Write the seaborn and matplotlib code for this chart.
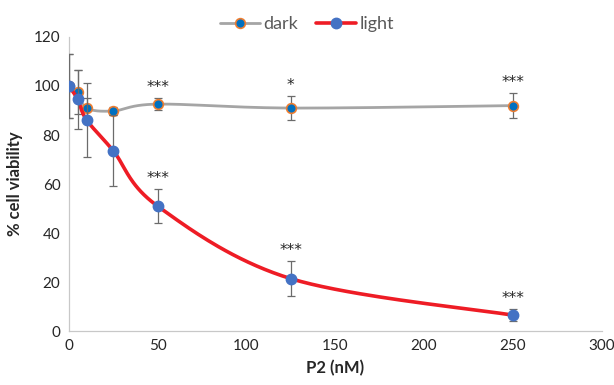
import matplotlib
matplotlib.use("Agg")
import matplotlib.pyplot as plt
import numpy as np
import pandas as pd
import seaborn as sns

# ── data ──────────────────────────────────────────────────────────────────
conc = [0, 5, 10, 25, 50, 125, 250]
dark = [100, 97.5, 91, 89.8, 92.6, 91, 92]
dark_err = [13, 9, 4, 1.5, 2.4, 5, 5]
light = [100, 94.6, 86.2, 73.6, 51, 21.4, 6.5]
light_err = [13, 12, 15, 14.5, 7, 7.2, 2.5]
dark_stars = ["", "", "", "", "***", "*", "***"]
light_stars = ["", "", "", "", "***", "***", "***"]

df = pd.DataFrame({"conc": conc, "dark": dark, "dark_err": dark_err,
                   "light": light, "light_err": light_err})


def smooth(x, y, n=40):
    # Excel-style smoothed line (Catmull-Rom through the points)
    x = np.asarray(x, float)
    y = np.asarray(y, float)
    px = np.r_[x[0], x, x[-1]]
    py = np.r_[y[0], y, y[-1]]
    xs, ys = [], []
    t = np.linspace(0, 1, n)
    for i in range(1, len(px) - 2):
        p0, p1, p2, p3 = [np.array([px[j], py[j]]) for j in range(i - 1, i + 3)]
        c1 = p1 + (p2 - p0) / 6
        c2 = p2 - (p3 - p1) / 6
        b = ((1 - t) ** 3)[:, None] * p1 + (3 * (1 - t) ** 2 * t)[:, None] * c1 \
            + (3 * (1 - t) * t ** 2)[:, None] * c2 + (t ** 3)[:, None] * p2
        xs.append(b[:, 0])
        ys.append(b[:, 1])
    return np.concatenate(xs), np.concatenate(ys)


sns.set_style("white")
plt.rcParams["font.family"] = ["Lato", "DejaVu Sans"]

fig = plt.figure(figsize=(6.14, 3.85), dpi=100)
ax = fig.add_axes([0.112, 0.140, 0.868, 0.764])

ERR = "#6b6b6b"
GRAY = "#a5a5a5"
RED = "#ee1c25"

# dark series
sx, sy = smooth(df["conc"], df["dark"])
sns.lineplot(x=sx, y=sy, ax=ax, color=GRAY, lw=2.0, sort=False, zorder=2)
ax.errorbar(df["conc"], df["dark"], yerr=df["dark_err"], fmt="none",
            ecolor=ERR, elinewidth=0.9, capsize=3, capthick=0.9, zorder=3)
ax.plot(df["conc"], df["dark"], "o", ms=7, mfc="#0070c0", mec="#ed7d31",
        mew=1.2, zorder=4)

# light series
sx, sy = smooth(df["conc"], df["light"])
sns.lineplot(x=sx, y=sy, ax=ax, color=RED, lw=2.6, sort=False, zorder=5)
ax.errorbar(df["conc"], df["light"], yerr=df["light_err"], fmt="none",
            ecolor=ERR, elinewidth=0.9, capsize=3, capthick=0.9, zorder=6)
ax.plot(df["conc"], df["light"], "o", ms=7.5, mfc="#4472c4", mec="#4472c4",
        zorder=7)

# significance stars
for x, y, e, s in zip(conc, dark, dark_err, dark_stars):
    if s:
        ax.text(x, y + e + 1.2, s, ha="center", va="bottom", fontsize=11,
                family="DejaVu Sans")
for x, y, e, s in zip(conc, light, light_err, light_stars):
    if s:
        ax.text(x, y + e + 1.2, s, ha="center", va="bottom", fontsize=11,
                family="DejaVu Sans")

ax.set_xlim(0, 300)
ax.set_ylim(0, 120)
ax.set_xticks(range(0, 301, 50))
ax.set_yticks(range(0, 121, 20))
ax.tick_params(labelsize=11, length=0, pad=6)
for sp in ["top", "right"]:
    ax.spines[sp].set_visible(False)
for sp in ["left", "bottom"]:
    ax.spines[sp].set_color("#c8c8c8")
    ax.spines[sp].set_linewidth(0.9)

ax.set_xlabel("P2 (nM)", fontsize=12, fontweight="bold", labelpad=5)
ax.set_ylabel("% cell viability", fontsize=12, fontweight="bold", labelpad=8)

handles = [
    plt.Line2D([], [], color=GRAY, lw=2.0, marker="o", ms=7,
               mfc="#0070c0", mec="#ed7d31", mew=1.2),
    plt.Line2D([], [], color=RED, lw=2.6, marker="o", ms=7.5,
               mfc="#4472c4", mec="#4472c4"),
]
leg = fig.legend(handles, ["dark", "light"], loc="upper center",
                 bbox_to_anchor=(0.5, 1.0), ncol=2, frameon=False,
                 fontsize=13, handlelength=2.2, handletextpad=0.2,
                 columnspacing=1.0)
for t in leg.get_texts():
    t.set_color("#595959")

fig.savefig("out.png", dpi=100)
